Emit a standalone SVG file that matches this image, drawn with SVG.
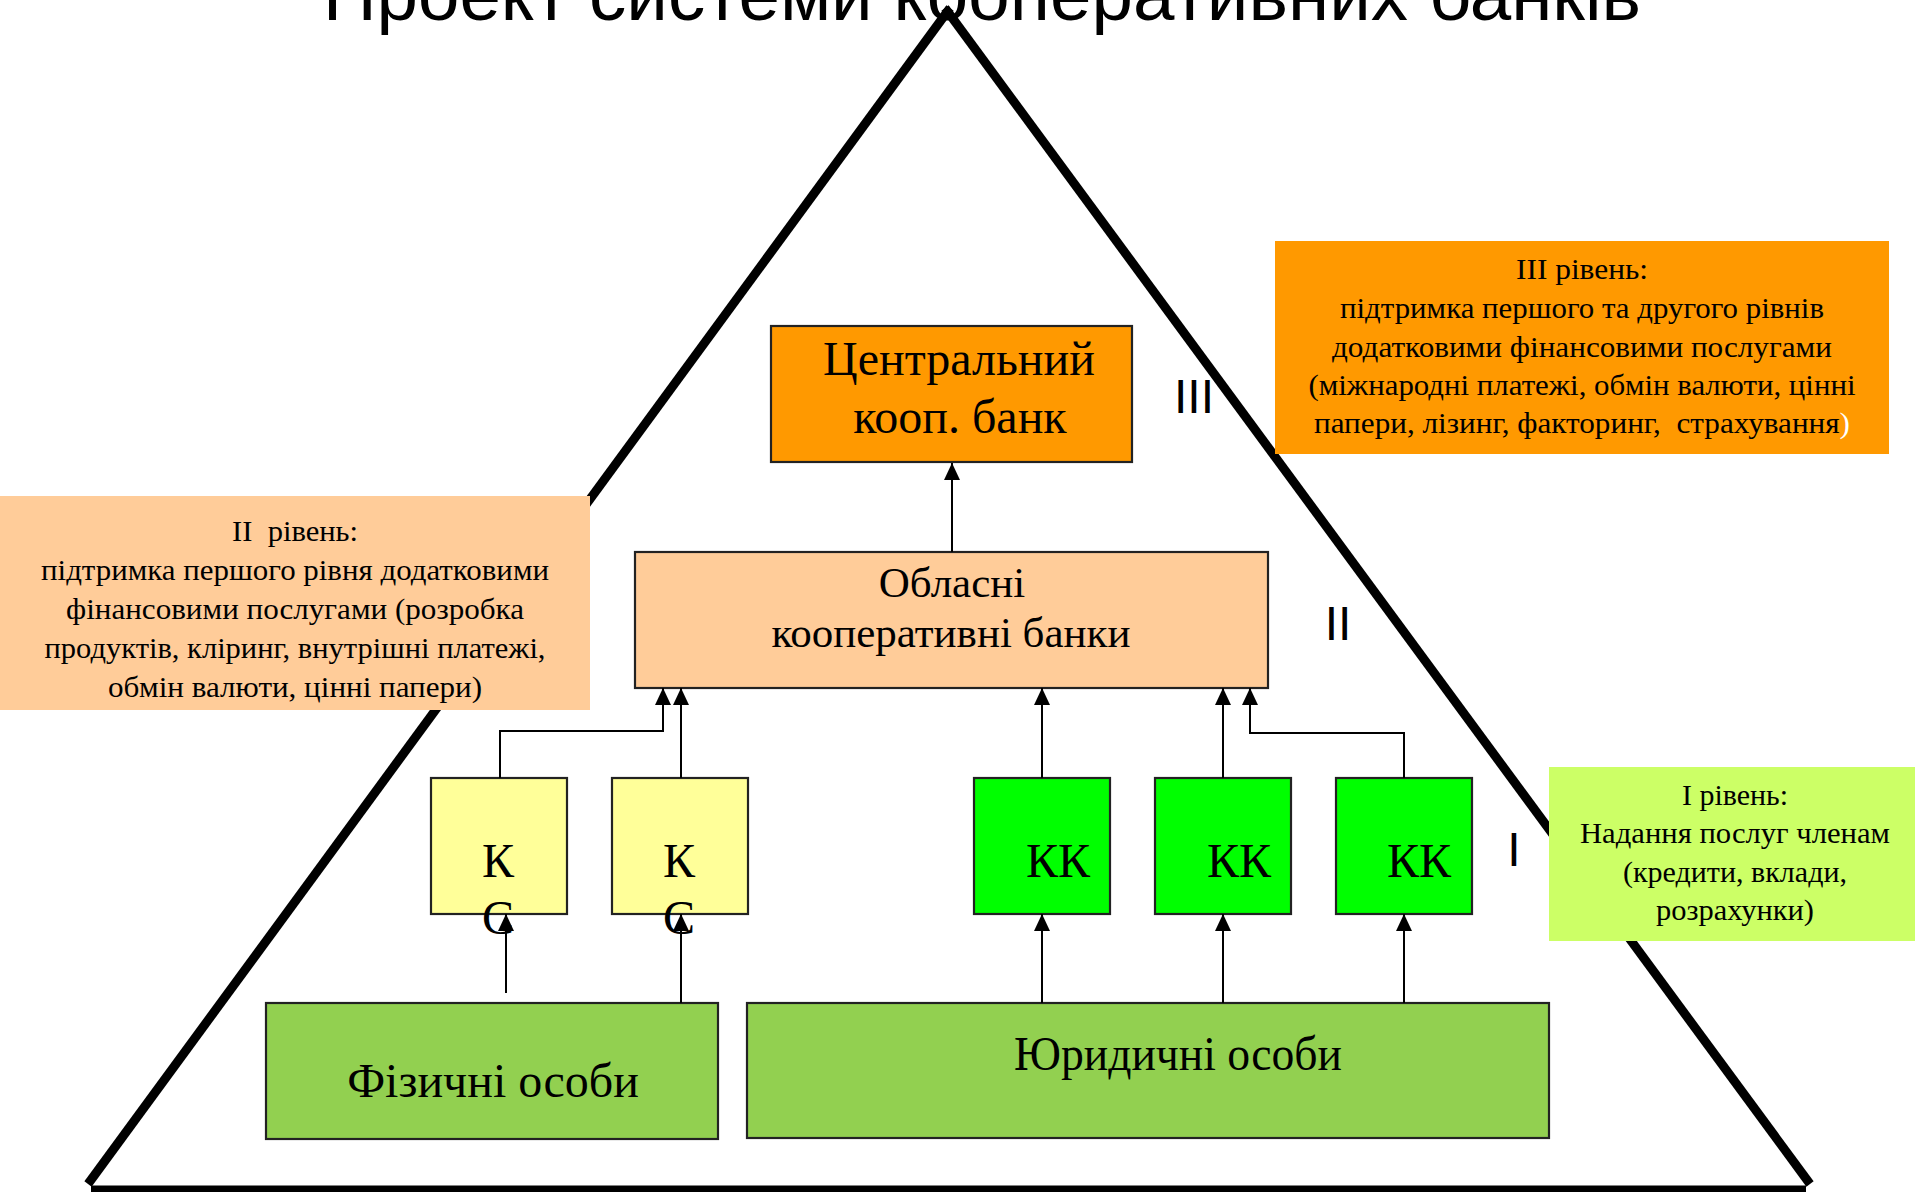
<svg xmlns="http://www.w3.org/2000/svg" width="1915" height="1192" viewBox="0 0 1915 1192">
<style>
.bg{fill:#ffffff}
.tri{stroke:#000;stroke-width:9;fill:none;stroke-linecap:butt}
.box{stroke:#222;stroke-width:2.2}
.lbl{font-family:"Liberation Serif","Times New Roman",serif;font-size:48px;fill:#000;text-anchor:middle}
.desc{font-family:"Liberation Serif","Times New Roman",serif;font-size:30px;fill:#000;text-anchor:middle}
.lvl{font-family:"Liberation Sans",Arial,sans-serif;font-size:48px;fill:#000;text-anchor:middle}
.title{font-family:"Liberation Sans",Arial,sans-serif;font-size:74.5px;fill:#000;text-anchor:middle}
.conn{stroke:#000;stroke-width:2;fill:none}
</style>
<defs>
<marker id="arr" markerUnits="userSpaceOnUse" markerWidth="17" markerHeight="16" refX="17" refY="8" orient="auto" viewBox="0 0 17 16">
<path d="M0,0 L17,8 L0,16 z" fill="#000"/>
</marker>
</defs>
<rect class="bg" x="0" y="0" width="1915" height="1192"/>
<text id="title" class="title" x="982" y="20">Проект системи кооперативних банків</text>
<g id="pyramid">
<line class="tri" x1="88" y1="1184" x2="950" y2="8"/>
<line class="tri" x1="945" y1="8" x2="1810" y2="1184"/>
<line class="tri" x1="91" y1="1190" x2="1806" y2="1190"/>
</g>
<g id="level2-desc">
<rect x="0" y="496" width="590" height="214" fill="#FFCC99"/>
<text class="desc" xml:space="preserve"><tspan x="295" y="541" textLength="126" lengthAdjust="spacingAndGlyphs">II  рівень:</tspan><tspan x="295" y="580" textLength="508" lengthAdjust="spacingAndGlyphs">підтримка першого рівня додатковими</tspan><tspan x="295" y="619" textLength="458" lengthAdjust="spacingAndGlyphs">фінансовими послугами (розробка</tspan><tspan x="295" y="658" textLength="501" lengthAdjust="spacingAndGlyphs">продуктів, кліринг, внутрішні платежі,</tspan><tspan x="295" y="697" textLength="374" lengthAdjust="spacingAndGlyphs">обмін валюти, цінні папери)</tspan></text>
</g>
<g id="level3-desc">
<rect x="1275" y="241" width="614" height="213" fill="#FF9900"/>
<text class="desc" xml:space="preserve"><tspan x="1582" y="279" textLength="132" lengthAdjust="spacingAndGlyphs">III рівень:</tspan><tspan x="1582" y="318" textLength="484" lengthAdjust="spacingAndGlyphs">підтримка першого та другого рівнів</tspan><tspan x="1582" y="357" textLength="500" lengthAdjust="spacingAndGlyphs">додатковими фінансовими послугами</tspan><tspan x="1582" y="395" textLength="547" lengthAdjust="spacingAndGlyphs">(міжнародні платежі, обмін валюти, цінні</tspan><tspan x="1582" y="433" textLength="536" lengthAdjust="spacingAndGlyphs">папери, лізинг, факторинг,  страхування<tspan fill="#ffffff">)</tspan></tspan></text>
</g>
<g id="level1-desc">
<rect x="1549" y="767" width="366" height="174" fill="#CCFF66"/>
<text class="desc"><tspan x="1735" y="805" textLength="106" lengthAdjust="spacingAndGlyphs">I рівень:</tspan><tspan x="1735" y="843" textLength="310" lengthAdjust="spacingAndGlyphs">Надання послуг членам</tspan><tspan x="1735" y="882" textLength="224" lengthAdjust="spacingAndGlyphs">(кредити, вклади,</tspan><tspan x="1735" y="920" textLength="158" lengthAdjust="spacingAndGlyphs">розрахунки)</tspan></text>
</g>
<g id="central-bank">
<rect class="box" x="771" y="326" width="361" height="136" fill="#FF9900"/>
<text class="lbl"><tspan x="959" y="375">Центральний</tspan><tspan x="960" y="433">кооп. банк</tspan></text>
</g>
<g id="regional-banks">
<rect class="box" x="635" y="552" width="633" height="136" fill="#FFCC99"/>
<text class="lbl" style="font-size:43px"><tspan x="952" y="597">Обласні</tspan><tspan x="951" y="647">кооперативні банки</tspan></text>
</g>
<g id="kc1">
<rect class="box" x="431" y="778" width="136" height="136" fill="#FFFF99"/>
<text class="lbl"><tspan x="498" y="877">К</tspan><tspan x="498" y="934">С</tspan></text>
</g>
<g id="kc2">
<rect class="box" x="612" y="778" width="136" height="136" fill="#FFFF99"/>
<text class="lbl"><tspan x="679" y="877">К</tspan><tspan x="679" y="934">С</tspan></text>
</g>
<g id="kk1">
<rect class="box" x="974" y="778" width="136" height="136" fill="#00FF00"/>
<text class="lbl" x="1058" y="877">КК</text>
</g>
<g id="kk2">
<rect class="box" x="1155" y="778" width="136" height="136" fill="#00FF00"/>
<text class="lbl" x="1239" y="877">КК</text>
</g>
<g id="kk3">
<rect class="box" x="1336" y="778" width="136" height="136" fill="#00FF00"/>
<text class="lbl" x="1419" y="877">КК</text>
</g>
<g id="individuals">
<rect class="box" x="266" y="1003" width="452" height="136" fill="#92D050"/>
<text class="lbl" x="493" y="1097">Фізичні особи</text>
</g>
<g id="legal-entities">
<rect class="box" x="747" y="1003" width="802" height="135" fill="#92D050"/>
<text class="lbl" x="1178" y="1070" textLength="328" lengthAdjust="spacingAndGlyphs">Юридичні особи</text>
</g>
<g id="level-labels">
<text class="lvl" x="1194" y="413">III</text>
<text class="lvl" x="1338" y="640">II</text>
<text class="lvl" x="1514" y="866">I</text>
</g>
<g id="connectors">
<path class="conn" d="M952,552 V463" marker-end="url(#arr)"/>
<path class="conn" d="M500,778 V731 H663 V688" marker-end="url(#arr)"/>
<path class="conn" d="M681,778 V688" marker-end="url(#arr)"/>
<path class="conn" d="M1042,778 V688" marker-end="url(#arr)"/>
<path class="conn" d="M1223,778 V688" marker-end="url(#arr)"/>
<path class="conn" d="M1404,778 V733 H1250 V688" marker-end="url(#arr)"/>
<path class="conn" d="M506,993 V914" marker-end="url(#arr)"/>
<path class="conn" d="M681,1003 V914" marker-end="url(#arr)"/>
<path class="conn" d="M1042,1003 V914" marker-end="url(#arr)"/>
<path class="conn" d="M1223,1003 V914" marker-end="url(#arr)"/>
<path class="conn" d="M1404,1003 V914" marker-end="url(#arr)"/>
</g>
</svg>
